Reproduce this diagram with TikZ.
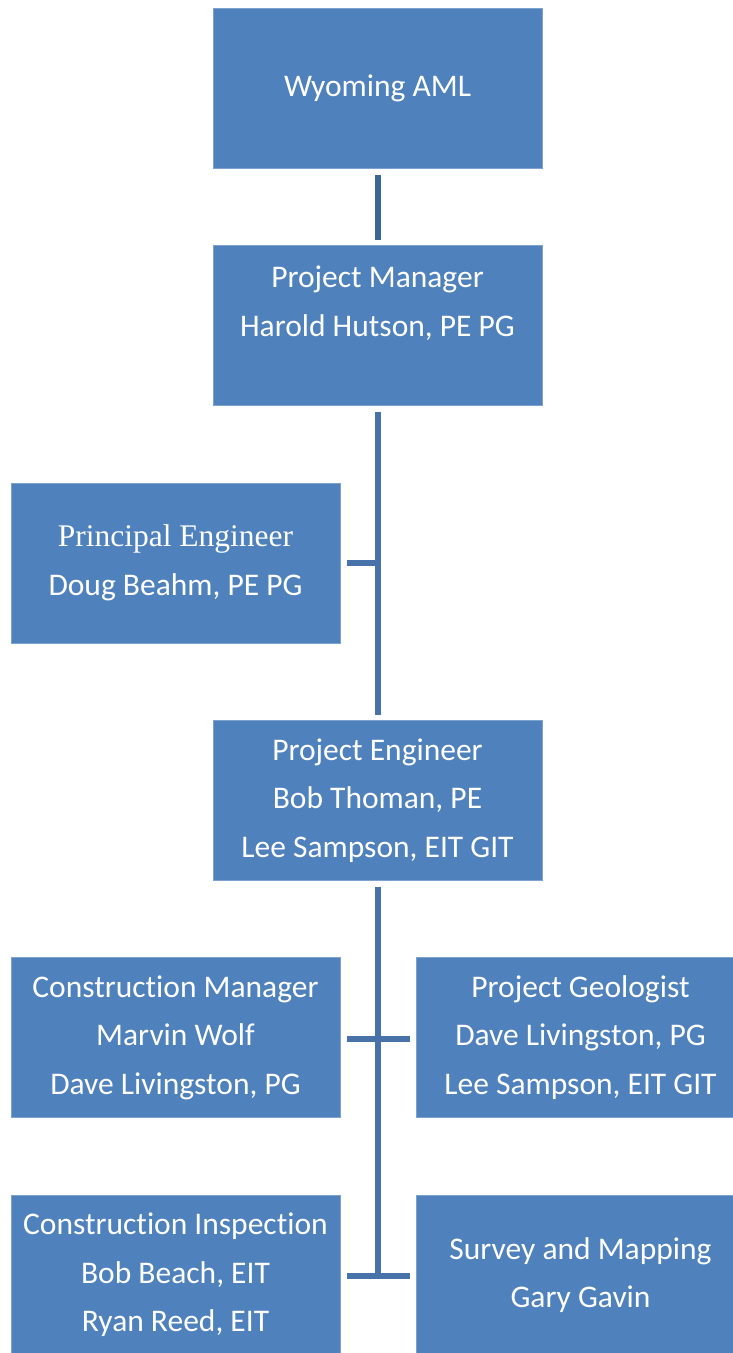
\documentclass[tikz,border=0pt]{standalone}
\usepackage{fontspec}
\setmainfont{Carlito}[Ligatures=NoCommon]
\newfontfamily\timesface{Liberation Serif}
\definecolor{boxblue}{RGB}{79,129,189}
\definecolor{boxedge}{RGB}{125,162,208}
\definecolor{linkdark}{RGB}{60,102,152}
\definecolor{linkblue}{RGB}{71,115,170}

\begin{document}
\begin{tikzpicture}[x=1pt,y=-1pt]
	\tikzset{orgbox/.style={draw=boxedge, line width=0.8pt, fill=boxblue, text=white,
		minimum width=329pt, minimum height=160pt, inner sep=0pt, align=center,
		font=\fontsize{31.5}{48.5}\selectfont}}
	\tikzset{link/.style={line width=6pt, draw=linkblue}}

	\useasboundingbox (0,0) rectangle (733,1353);

	\node[orgbox] (aml) at (377.5,88) {Wyoming AML};
	\node[orgbox] (manager) at (377.5,325.5) {Project Manager\\Harold Hutson, PE PG\\~};
	\node[orgbox] (principal) at (175.5,563) {{\timesface Principal Engineer}\\Doug Beahm, PE PG};
	\node[orgbox] (projeng) at (377.5,800.5) {Project Engineer\\Bob Thoman, PE\\Lee Sampson, EIT GIT};

	\node[orgbox] (constmgr) at (175.5,1037.5) {Construction Manager\\Marvin Wolf\\Dave Livingston, PG};
	\node[orgbox] (geologist) at (580.5,1037.5) {Project Geologist\\Dave Livingston, PG\\Lee Sampson, EIT GIT};
	\node[orgbox] (inspect) at (175.5,1275) {Construction Inspection\\Bob Beach, EIT\\Ryan Reed, EIT};
	\node[orgbox] (survey) at (580.5,1275) {Survey and Mapping\\Gary Gavin};

	% connectors
	\draw[link, draw=linkdark, shorten <=7pt, shorten >=5pt] (aml.south) -- (manager.north);
	\draw[link, shorten <=6pt, shorten >=5pt] (manager.south) -- (projeng.north);
	\draw[link, shorten <=7pt, shorten >=-3pt] (principal.east) -- (principal.east -| manager.south);

	\coordinate (trunkend) at (inspect.east -| projeng.south);
	\draw[link, shorten <=6pt, shorten >=-4pt] (projeng.south) -- (trunkend);
	\draw[link, shorten <=7pt, shorten >=6pt] ([yshift=-1.5pt]constmgr.east) -- ([yshift=-1.5pt]geologist.west);
	\draw[link, shorten <=7pt, shorten >=6pt] ([yshift=-1pt]inspect.east) -- ([yshift=-1pt]survey.west);
\end{tikzpicture}
\end{document}
